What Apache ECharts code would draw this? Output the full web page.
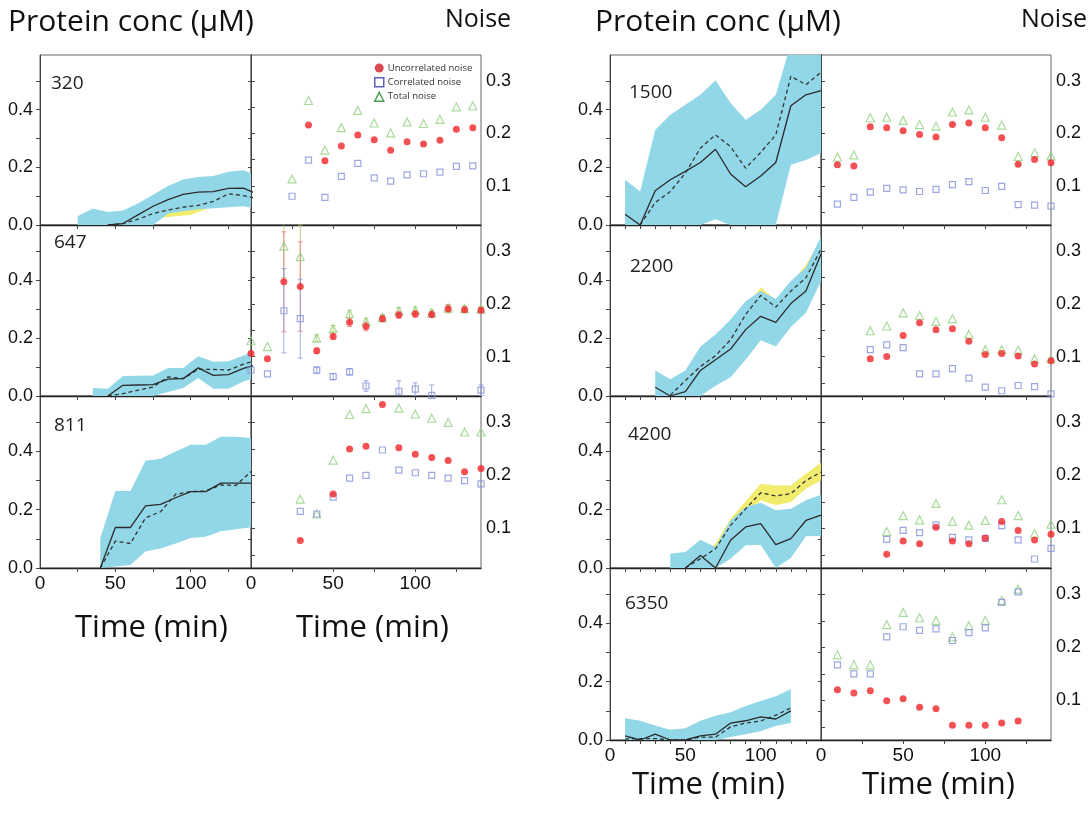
<!DOCTYPE html>
<html><head><meta charset="utf-8">
<script src="https://cdn.jsdelivr.net/npm/echarts@6/dist/echarts.min.js"></script>
<style>html,body{margin:0;padding:0;background:#fff}#c{width:1090px;height:815px}</style>
</head><body><div id="c"></div>
<script>
// ===== Protein concentration panels (time in min, conc in uM) =====
// 320
const t320 = [25,35,45,55,65,75,85,95,105,115,125,135,145];
const cyanLo320 = [0,0,0,0,0,0,0.04,0.048,0.055,0.058,0.062,0.065,0.055];
const cyanHi320 = [0.03,0.057,0.045,0.05,0.075,0.105,0.135,0.158,0.167,0.17,0.185,0.19,0.17];
const solid320 = [null,null,0,0.005,0.035,0.065,0.088,0.106,0.114,0.116,0.127,0.128,0.105];
const dashed320 = [null,null,0,0.005,0.02,0.04,0.052,0.062,0.068,0.082,0.108,0.102,0.09];
const yT320 = [80,90,100,110];
const yLo320 = [0.025,0.03,0.035,0.055];
const yHi320 = [0.06,0.07,0.08,0.09];
// 647
const t647 = [35,45,55,65,75,85,95,105,115,125,135,145];
const cyanLo647 = [0,0,0,0,0,0.014,0.028,0.062,0.025,0.025,0.05,0.065];
const cyanHi647 = [0.028,0.025,0.069,0.07,0.071,0.097,0.097,0.137,0.118,0.12,0.14,0.158];
const solid647 = [null,0,0.037,0.038,0.039,0.058,0.06,0.097,0.071,0.074,0.095,0.11];
const dashed647 = [null,0,0.008,0.02,0.031,0.066,0.06,0.092,0.092,0.089,0.11,0.125];
const yT647 = [];
const yLo647 = [];
const yHi647 = [];
// 811
const t811 = [40,50,60,70,80,90,100,110,120,130,140];
const cyanLo811 = [0,0.005,0.01,0.057,0.067,0.084,0.103,0.107,0.126,0.133,0.14];
const cyanHi811 = [0.103,0.264,0.264,0.368,0.375,0.4,0.423,0.423,0.45,0.45,0.446];
const solid811 = [0,0.139,0.139,0.213,0.218,0.241,0.262,0.262,0.291,0.291,0.291];
const dashed811 = [0,0.092,0.084,0.172,0.193,0.253,0.262,0.264,0.285,0.283,0.331];
const yT811 = [];
const yLo811 = [];
const yHi811 = [];
// 1500
const t1500 = [10,20,30,40,50,60,70,80,90,100,110,120,130,140];
const cyanLo1500 = [0,0,0,0,0,0,0.02,0,0,0,0,0.209,0.226,0.249];
const cyanHi1500 = [0.157,0.116,0.33,0.383,0.417,0.452,0.502,0.423,0.365,0.4,0.452,0.63,0.7,0.7];
const solid1500 = [0.037,0,0.119,0.157,0.186,0.217,0.263,0.177,0.133,0.17,0.217,0.414,0.452,0.466];
const dashed1500 = [null,0,0.078,0.116,0.18,0.267,0.313,0.272,0.197,0.252,0.313,0.516,0.487,0.53];
const yT1500 = [];
const yLo1500 = [];
const yHi1500 = [];
// 2200
const t2200 = [30,40,50,60,70,80,90,100,110,120,130,140];
const cyanLo2200 = [0,0,0,0,0.035,0.065,0.125,0.192,0.171,0.238,0.287,0.397];
const cyanHi2200 = [0.088,0.058,0.088,0.171,0.212,0.264,0.327,0.362,0.335,0.397,0.443,0.55];
const solid2200 = [0.03,0,0.015,0.088,0.125,0.162,0.229,0.275,0.254,0.319,0.362,0.49];
const dashed2200 = [null,0.003,0.053,0.102,0.139,0.194,0.281,0.347,0.307,0.362,0.408,0.506];
const yT2200 = [80,90,100,110,120,130,140];
const yLo2200 = [0.164,0.25,0.317,0.277,0.332,0.378,0.476];
const yHi2200 = [0.21,0.3,0.375,0.33,0.39,0.452,0.54];
// 4200
const t4200 = [40,50,60,70,80,90,100,110,120,130,140];
const cyanLo4200 = [0,0,0,0,0.032,0.078,0.08,0,0.034,0.109,0.11];
const cyanHi4200 = [0.049,0.055,0.097,0.072,0.163,0.209,0.224,0.198,0.203,0.232,0.251];
const solid4200 = [null,0,0.043,0,0.095,0.141,0.152,0.08,0.101,0.163,0.181];
const dashed4200 = [null,0,0.032,0.066,0.146,0.203,0.258,0.247,0.255,0.3,0.329];
const yT4200 = [60,70,80,90,100,110,120,130,140];
const yLo4200 = [0.035,0.055,0.123,0.18,0.232,0.215,0.226,0.272,0.3];
const yHi4200 = [0.045,0.083,0.169,0.229,0.289,0.283,0.283,0.323,0.361];
// 6350
const t6350 = [10,20,30,40,50,60,70,80,90,100,110,120];
const cyanLo6350 = [0,0,0,0,0,0,0,0.01,0.02,0.03,0.048,0.058];
const cyanHi6350 = [0.075,0.066,0.05,0.035,0.04,0.066,0.083,0.095,0.117,0.134,0.15,0.175];
const solid6350 = [0.014,0,0.02,0,0,0.014,0.02,0.058,0.066,0.079,0.072,0.1];
const dashed6350 = [0.003,0.005,0.005,0,0,0.01,0.01,0.045,0.058,0.065,0.085,0.11];
const yT6350 = [];
const yLo6350 = [];
const yHi6350 = [];

// ===== Noise panels =====
const nt320 = [25,35,45,55,65,75,85,95,105,115,125,135];
const red320 = [null,0.216,0.148,0.176,0.197,0.188,0.168,0.184,0.180,0.187,0.208,0.211];
const blue320 = [0.080,0.149,0.078,0.118,0.143,0.115,0.109,0.121,0.123,0.126,0.137,0.138];
const green320 = [0.113,0.263,0.168,0.211,0.244,0.220,0.201,0.222,0.219,0.227,0.251,0.253];

const nt647 = [0,10,20,30,40,50,60,70,80,90,100,110,120,130,140];
const red647 = [0.106,0.096,0.242,0.233,0.111,0.138,0.165,0.157,0.172,0.179,0.181,0.180,0.191,0.189,0.188];
const blue647 = [0.074,0.067,0.187,0.172,0.074,0.062,0.071,0.044,null,0.034,0.038,0.026,null,null,0.036];
const green647 = [0.130,0.119,0.31,0.290,0.135,0.153,0.181,0.167,0.174,0.187,0.188,0.183,0.192,0.191,0.190];
const redErr647 = [0,0,0.095,0.085,0.005,0.005,0.008,0.008,0.006,0.006,0.006,0.006,0.008,0.005,0.005];
const blueErr647 = [0,0,0.08,0.075,0.006,0.006,0.006,0.01,0,0.02,0.012,0.02,0,0,0.01];
const greenErr647 = [0,0,0.06,0.06,0.006,0.006,0.007,0.005,0.006,0.006,0.006,0.006,0.006,0.005,0.005];

const nt811 = [30,40,50,60,70,80,90,100,110,120,130,140];
const red811 = [0.077,0.02,0.165,0.250,0.255,0.334,0.252,0.240,0.234,0.228,0.207,0.213];
const blue811 = [0.132,0.127,0.159,0.195,0.2,0.248,0.21,0.205,0.2,0.195,0.19,0.184];
const green811 = [0.155,0.127,0.229,0.315,0.326,null,0.327,0.316,0.308,0.3,0.282,0.282];

const nt1500 = [10,20,30,40,50,60,70,80,90,100,110,120,130,140];
const red1500 = [0.140,0.138,0.213,0.211,0.205,0.198,0.193,0.217,0.220,0.211,0.192,0.141,0.150,0.144];
const blue1500 = [0.065,0.078,0.088,0.095,0.092,0.089,0.093,0.102,0.108,0.091,0.099,0.064,0.063,0.061];
const green1500 = [0.155,0.159,0.230,0.231,0.225,0.217,0.214,0.241,0.245,0.231,0.216,0.156,0.163,0.157];

const nt2200 = [30,40,50,60,70,80,90,100,110,120,130,140];
const red2200 = [0.096,0.1,0.14,0.164,0.151,0.153,0.129,0.104,0.106,0.101,0.086,0.092];
const blue2200 = [0.113,0.122,0.117,0.067,0.067,0.077,0.059,0.042,0.035,0.045,0.043,0.029];
const green2200 = [0.149,0.158,0.183,0.178,0.167,0.172,0.142,0.113,0.113,0.112,0.096,0.096];

const nt4200 = [40,50,60,70,80,90,100,110,120,130,140];
const red4200 = [0.051,0.076,0.071,0.102,0.076,0.071,0.081,0.113,0.096,0.078,0.089];
const blue4200 = [0.079,0.096,0.092,0.106,0.083,0.078,0.081,0.105,0.078,0.042,0.062];
const green4200 = [0.094,0.124,0.116,0.147,0.113,0.106,0.115,0.154,0.124,0.090,0.108];

const nt6350 = [10,20,30,40,50,60,70,80,90,100,110,120];
const red6350 = [0.12,0.114,0.118,0.099,0.103,0.087,0.084,0.053,0.053,0.053,0.057,0.061];
const blue6350 = [0.167,0.15,0.15,0.22,0.239,0.232,0.235,0.213,0.228,0.237,0.285,0.305];
const green6350 = [0.186,0.167,0.167,0.243,0.266,0.256,0.251,0.22,0.241,0.251,0.289,0.31];

// ===== Layout / styles =====
const CYAN = '#92d7e7', YELLOW = '#f2ec6e';
const RED = '#f1262b', BLUE = '#8491da', GREEN = '#93d283';
const NUM_FONT = "'Liberation Sans', Arial, sans-serif";
const TXT_FONT = "'Open Sans', 'Noto Sans', sans-serif";
const P_MIN = 0, P_MAX = 0.59, N_MIN = 0.025, N_MAX = 0.35;
const colX = {L: [40, 251], R: [610, 821]};
const rowY = [[55, 170], [225, 171], [396, 172], [568, 172]];

const panels = [
  {col:'L', row:0, label:'320', lx:11, ly:29, bottom:false,
   p:{t:t320, lo:cyanLo320, hi:cyanHi320, s:solid320, d:dashed320, yt:yT320, ylo:yLo320, yhi:yHi320},
   n:{t:nt320, r:red320, b:blue320, g:green320}},
  {col:'L', row:1, label:'647', lx:14, ly:18, bottom:false,
   p:{t:t647, lo:cyanLo647, hi:cyanHi647, s:solid647, d:dashed647, yt:yT647, ylo:yLo647, yhi:yHi647},
   n:{t:nt647, r:red647, b:blue647, g:green647, re:redErr647, be:blueErr647, ge:greenErr647}},
  {col:'L', row:2, label:'811', lx:14, ly:30, bottom:true,
   p:{t:t811, lo:cyanLo811, hi:cyanHi811, s:solid811, d:dashed811, yt:yT811, ylo:yLo811, yhi:yHi811},
   n:{t:nt811, r:red811, b:blue811, g:green811}},
  {col:'R', row:0, label:'1500', lx:19, ly:38, bottom:false,
   p:{t:t1500, lo:cyanLo1500, hi:cyanHi1500, s:solid1500, d:dashed1500, yt:yT1500, ylo:yLo1500, yhi:yHi1500},
   n:{t:nt1500, r:red1500, b:blue1500, g:green1500}},
  {col:'R', row:1, label:'2200', lx:20, ly:42, bottom:false,
   p:{t:t2200, lo:cyanLo2200, hi:cyanHi2200, s:solid2200, d:dashed2200, yt:yT2200, ylo:yLo2200, yhi:yHi2200},
   n:{t:nt2200, r:red2200, b:blue2200, g:green2200}},
  {col:'R', row:2, label:'4200', lx:18, ly:39, bottom:false,
   p:{t:t4200, lo:cyanLo4200, hi:cyanHi4200, s:solid4200, d:dashed4200, yt:yT4200, ylo:yLo4200, yhi:yHi4200},
   n:{t:nt4200, r:red4200, b:blue4200, g:green4200}},
  {col:'R', row:3, label:'6350', lx:15, ly:36, bottom:true,
   p:{t:t6350, lo:cyanLo6350, hi:cyanHi6350, s:solid6350, d:dashed6350, yt:yT6350, ylo:yLo6350, yhi:yHi6350},
   n:{t:nt6350, r:red6350, b:blue6350, g:green6350}}
];

const grids = [], xAxes = [], yAxes = [], series = [];
const pairs = (t, v) => t.map((x, i) => [x, v[i] == null ? null : v[i]]);

function xAxisDef(gi, show, ticks) {
  return {type:'value', gridIndex:gi, min:0, max:140, interval:50,
    axisLine:{show:true, onZero:false, lineStyle:{color:'#222', width:1.4}},
    axisTick:{show:true, customValues:ticks, length:4, lineStyle:{color:'#444', width:1}},
    axisLabel:{show:show, customValues:[0,50,100], fontSize:19, fontFamily:NUM_FONT, color:'#111', margin:6},
    splitLine:{show:false}};
}

// Band drawn as a polygon through the library's coordinate system (clipped to the grid)
function band(xi, yi, t, lo, hi, color) {
  if (!t.length) return;
  series.push({type:'custom', xAxisIndex:xi, yAxisIndex:yi, data:[[t[0], lo[0]]], silent:true, z:1, clip:true,
    renderItem:(params, api) => {
      const pts = [];
      for (let i = 0; i < t.length; i++) pts.push(api.coord([t[i], hi[i]]));
      for (let i = t.length - 1; i >= 0; i--) pts.push(api.coord([t[i], lo[i]]));
      const cs = params.coordSys;
      return {type:'polygon', shape:{points:pts}, style:{fill:color},
        clipPath:{type:'rect', shape:{x:cs.x, y:cs.y, width:cs.width, height:cs.height}}};
    }});
}

function errBars(xi, yi, t, v, e, color) {
  const data = t.map((x,i)=>[x, v[i], e[i]]).filter(d => d[1] != null && d[2] > 0);
  series.push({type:'custom', xAxisIndex:xi, yAxisIndex:yi, data:data, silent:true, z:2,
    renderItem:(params, api) => {
      const x = api.value(0), y = api.value(1), e = api.value(2);
      const top = Math.min(y + e, N_MAX), bot = Math.max(y - e, N_MIN);
      const p1 = api.coord([x, top]), p2 = api.coord([x, bot]);
      const st = {stroke:color, lineWidth:1};
      const ch = [{type:'line', shape:{x1:p1[0], y1:p1[1], x2:p2[0], y2:p2[1]}, style:st}];
      if (y + e <= N_MAX) ch.push({type:'line', shape:{x1:p1[0]-2.5, y1:p1[1], x2:p1[0]+2.5, y2:p1[1]}, style:st});
      if (y - e >= N_MIN) ch.push({type:'line', shape:{x1:p2[0]-2.5, y1:p2[1], x2:p2[0]+2.5, y2:p2[1]}, style:st});
      return {type:'group', children:ch};
    }});
}

const graphics = [];

panels.forEach(P => {
  const [top, h] = rowY[P.row];
  const [px, nx] = colX[P.col];
  // ---- protein grid ----
  let gi = grids.length;
  grids.push({left:px, top:top, width:nx - px, height:h, show:true, borderColor:'#666', borderWidth:1});
  let xi = xAxes.length;
  const pTicks = P.col === 'L' ? [25,50,75,100,125] : [10,20,30,40,50,60,70,80,90,100,110,120,130];
  xAxes.push(xAxisDef(gi, P.bottom, pTicks));
  let yi = yAxes.length;
  yAxes.push({type:'value', gridIndex:gi, min:P_MIN, max:P_MAX, position:'left',
    axisLine:{show:true, lineStyle:{color:'#444', width:1}},
    axisTick:{show:true, customValues:[0,0.1,0.2,0.3,0.4,0.5], length:4, lineStyle:{color:'#444'}},
    axisLabel:{customValues:[0,0.2,0.4], formatter:v => v.toFixed(1), fontSize:18, fontFamily:NUM_FONT, color:'#111', margin:7},
    splitLine:{show:false}});
  yAxes.push({type:'value', gridIndex:gi, min:P_MIN, max:P_MAX, position:'right',
    axisLine:{show:true, lineStyle:{color:'#444', width:1}},
    axisTick:{show:true, inside:true, customValues:[0.1,0.2,0.3,0.4,0.5], length:3, lineStyle:{color:'#444'}},
    axisLabel:{show:false}, splitLine:{show:false}});
  band(xi, yi, P.p.yt, P.p.ylo, P.p.yhi, YELLOW);
  band(xi, yi, P.p.t, P.p.lo, P.p.hi, CYAN);
  series.push({type:'line', xAxisIndex:xi, yAxisIndex:yi, data:pairs(P.p.t, P.p.d), symbol:'none', z:3,
    lineStyle:{color:'#333', width:1.3, type:[4,3]}});
  series.push({type:'line', xAxisIndex:xi, yAxisIndex:yi, data:pairs(P.p.t, P.p.s), symbol:'none', z:3,
    lineStyle:{color:'#2a2a2a', width:1.3}});
  graphics.push({type:'text', z:100, x:px + P.lx, y:top + P.ly,
    style:{text:P.label, font:"19px " + TXT_FONT, fill:'#222', textVerticalAlign:'middle', verticalAlign:'middle'}});

  // ---- noise grid ----
  gi = grids.length;
  grids.push({left:nx, top:top, width:230, height:h, show:true, borderColor:'#666', borderWidth:1});
  xi = xAxes.length;
  xAxes.push(xAxisDef(gi, P.bottom, [25,50,75,100,125]));
  yi = yAxes.length;
  yAxes.push({type:'value', gridIndex:gi, min:N_MIN, max:N_MAX, position:'right',
    axisLine:{show:true, lineStyle:{color:'#444', width:1}},
    axisTick:{show:true, customValues:[0.05,0.1,0.15,0.2,0.25,0.3], length:4, lineStyle:{color:'#444'}},
    axisLabel:{customValues:[0.1,0.2,0.3], formatter:v => v.toFixed(1), fontSize:18, fontFamily:NUM_FONT, color:'#111', margin:5},
    splitLine:{show:false}});
  yAxes.push({type:'value', gridIndex:gi, min:N_MIN, max:N_MAX, position:'left',
    axisLine:{show:true, lineStyle:{color:'#444', width:1}},
    axisTick:{show:true, inside:true, customValues:[0.05,0.1,0.15,0.2,0.25,0.3], length:3, lineStyle:{color:'#444'}},
    axisLabel:{show:false}, splitLine:{show:false}});
  if (P.n.re) {
    errBars(xi, yi, P.n.t, P.n.g, P.n.ge, 'rgba(170,200,90,0.8)');
    errBars(xi, yi, P.n.t, P.n.r, P.n.re, 'rgba(235,120,120,0.8)');
    errBars(xi, yi, P.n.t, P.n.b, P.n.be, 'rgba(140,150,220,0.8)');
  }
  series.push({type:'scatter', name:'Total noise', xAxisIndex:xi, yAxisIndex:yi, data:pairs(P.n.t, P.n.g),
    symbol:'triangle', symbolSize:8, z:4, itemStyle:{color:'rgba(255,255,255,0)', borderColor:GREEN, borderWidth:1.2}});
  series.push({type:'scatter', name:'Correlated noise', xAxisIndex:xi, yAxisIndex:yi, data:pairs(P.n.t, P.n.b),
    symbol:'rect', symbolSize:6, z:4, itemStyle:{color:'rgba(255,255,255,0)', borderColor:BLUE, borderWidth:1.2}});
  series.push({type:'scatter', name:'Uncorrelated noise', xAxisIndex:xi, yAxisIndex:yi, data:pairs(P.n.t, P.n.r),
    symbol:'circle', symbolSize:7, z:5, itemStyle:{color:RED}});
});

// Titles
const titles = [
  {text:'Protein conc (μM)', x:8, y:22, size:30},
  {text:'Noise', x:445, y:20, size:25},
  {text:'Protein conc (μM)', x:595, y:22, size:30},
  {text:'Noise', x:1021, y:20, size:25},
  {text:'Time (min)', x:75, y:628, size:31},
  {text:'Time (min)', x:296, y:628, size:31},
  {text:'Time (min)', x:632, y:785, size:31},
  {text:'Time (min)', x:862, y:785, size:31}
];
titles.forEach(T => graphics.push({type:'text', z:100, x:T.x, y:T.y,
  style:{text:T.text, font:T.size + "px " + TXT_FONT, fill:'#111', textVerticalAlign:'middle', verticalAlign:'middle'}}));

const chart = echarts.init(document.getElementById('c'));
chart.setOption({
  animation:false,
  backgroundColor:'#fff',
  grid:grids, xAxis:xAxes, yAxis:yAxes, series:series,
  graphic:graphics,
  legend:{left:369, top:58, orient:'vertical', itemWidth:9, itemHeight:9, itemGap:4, selectedMode:false,
    textStyle:{fontSize:9.5, fontFamily:TXT_FONT, color:'#333', padding:[0,0,0,-1]},
    data:[
      {name:'Uncorrelated noise', icon:'circle', itemStyle:{color:'#cf1f2a', borderWidth:0}},
      {name:'Correlated noise', icon:'rect', itemStyle:{color:'#fff', borderColor:'#2f3aa8', borderWidth:1.5}},
      {name:'Total noise', icon:'triangle', itemStyle:{color:'#fff', borderColor:'#22862a', borderWidth:1.5}}
    ]}
});
</script></body></html>
